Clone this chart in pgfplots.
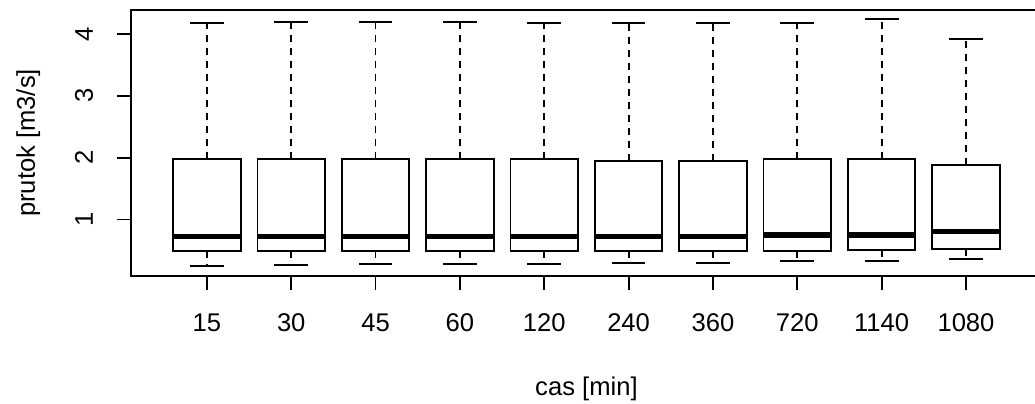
\documentclass[border=0pt]{standalone}
\usepackage{pgfplots}
\pgfplotsset{compat=1.18}
\usepgfplotslibrary{statistics}
\usepackage{fontspec}
\setmainfont{Liberation Sans}
\begin{document}
\begin{tikzpicture}
\begin{axis}[
  at={(0,0)}, anchor=south west,
  scale only axis, width=455.45pt, height=133pt,
  xmin=0.1, xmax=10.9, ymin=0.084, ymax=4.389,
  xtick={1,2,3,4,5,6,7,8,9,10},
  xticklabels={15,30,45,60,120,240,360,720,1140,1080},
  ytick={1,2,3,4},
  xtick pos=bottom, ytick pos=left,
  tick align=outside, major tick length=7pt,
  tick style={black, line width=0.9pt},
  axis line style={black, line width=0.9pt},
  /pgf/number format/assume math mode=true,
  tick label style={font=\fontsize{12.8}{15}\selectfont, text=black},
  xticklabel style={anchor=base},
  xticklabel shift=20.5pt,
  yticklabel style={rotate=90, anchor=base},
  yticklabel shift=12pt,
  every axis x label/.style={at={(rel axis cs:0.5,0)}, yshift=-59.5pt, anchor=base, font=\fontsize{12.8}{15}\selectfont, text=black},
  every axis y label/.style={at={(rel axis cs:0,0.5)}, xshift=-48pt, rotate=90, anchor=base, font=\fontsize{12.8}{15}\selectfont, text=black},
  xlabel={cas [min]},
  ylabel={prutok [m3/s]},
  boxplot/draw direction=y,
  boxplot/box extend=0.8,
  boxplot/whisker extend=0.4,
  boxplot/every median/.style={line width=2.6pt},
  boxplot/every box/.style={fill=white},
  boxplot/draw/lower whisker/.code={%
    \draw[black, line width=0.9pt, dash pattern=on 3.5pt off 3pt]
      (boxplot box cs:\pgfplotsboxplotvalue{lower quartile},0.5) --
      (boxplot box cs:\pgfplotsboxplotvalue{lower whisker},0.5);
    \draw[black, line width=0.9pt]
      (boxplot whisker cs:\pgfplotsboxplotvalue{lower whisker},0) --
      (boxplot whisker cs:\pgfplotsboxplotvalue{lower whisker},1);
  },
  boxplot/draw/upper whisker/.code={%
    \draw[black, line width=0.9pt, dash pattern=on 3.5pt off 3pt]
      (boxplot box cs:\pgfplotsboxplotvalue{upper quartile},0.5) --
      (boxplot box cs:\pgfplotsboxplotvalue{upper whisker},0.5);
    \draw[black, line width=0.9pt]
      (boxplot whisker cs:\pgfplotsboxplotvalue{upper whisker},0) --
      (boxplot whisker cs:\pgfplotsboxplotvalue{upper whisker},1);
  },
]
\addplot[black, line width=0.9pt, boxplot prepared={draw position=1, lower whisker=0.246, lower quartile=0.486, median=0.720, upper quartile=1.973, upper whisker=4.174}] coordinates {};
\addplot[black, line width=0.9pt, boxplot prepared={draw position=2, lower whisker=0.267, lower quartile=0.486, median=0.720, upper quartile=1.973, upper whisker=4.200}] coordinates {};
\addplot[black, line width=0.9pt, boxplot prepared={draw position=3, lower whisker=0.275, lower quartile=0.489, median=0.720, upper quartile=1.973, upper whisker=4.200}] coordinates {};
\addplot[black, line width=0.9pt, boxplot prepared={draw position=4, lower whisker=0.273, lower quartile=0.489, median=0.720, upper quartile=1.973, upper whisker=4.200}] coordinates {};
\addplot[black, line width=0.9pt, boxplot prepared={draw position=5, lower whisker=0.273, lower quartile=0.489, median=0.720, upper quartile=1.973, upper whisker=4.184}] coordinates {};
\addplot[black, line width=0.9pt, boxplot prepared={draw position=6, lower whisker=0.294, lower quartile=0.489, median=0.720, upper quartile=1.950, upper whisker=4.184}] coordinates {};
\addplot[black, line width=0.9pt, boxplot prepared={draw position=7, lower whisker=0.294, lower quartile=0.489, median=0.720, upper quartile=1.950, upper whisker=4.184}] coordinates {};
\addplot[black, line width=0.9pt, boxplot prepared={draw position=8, lower whisker=0.332, lower quartile=0.493, median=0.747, upper quartile=1.973, upper whisker=4.179}] coordinates {};
\addplot[black, line width=0.9pt, boxplot prepared={draw position=9, lower whisker=0.327, lower quartile=0.505, median=0.747, upper quartile=1.973, upper whisker=4.240}] coordinates {};
\addplot[black, line width=0.9pt, boxplot prepared={draw position=10, lower whisker=0.354, lower quartile=0.526, median=0.801, upper quartile=1.876, upper whisker=3.920}] coordinates {};
\end{axis}
\pgfresetboundingbox
\path[use as bounding box] (-65.5pt,-63.5pt) rectangle (452pt,138pt);
\end{tikzpicture}
\end{document}
